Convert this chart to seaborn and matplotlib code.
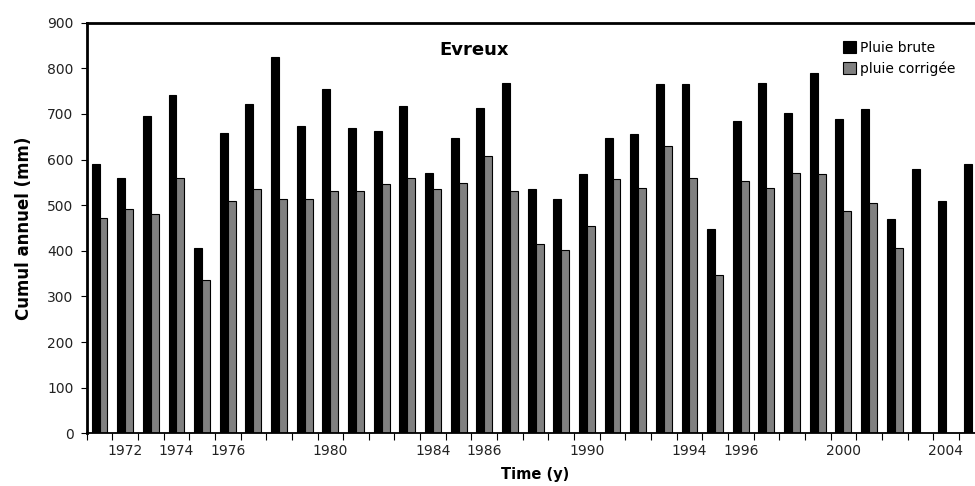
import numpy as np
import pandas as pd
import matplotlib
matplotlib.use("Agg")
import matplotlib.pyplot as plt
import seaborn as sns

years = list(range(1971, 2006))
pluie_brute = [590, 560, 695, 742, 407, 659, 721, 825, 673, 754,
               670, 662, 717, 571, 648, 714, 768, 535, 513, 568,
               648, 655, 765, 765, 447, 684, 768, 703, 790, 688,
               710, 469, 579, 509, 590]
pluie_corrigee = [472, 491, 480, 560, 337, 509, 535, 513, 513, 531,
                  531, 546, 560, 535, 549, 608, 531, 416, 402, 454,
                  557, 538, 630, 560, 348, 553, 538, 571, 568, 487,
                  505, 407, np.nan, np.nan, np.nan]
series_names = ["Pluie brute", "pluie corrigée"]
shown_years = [1972, 1974, 1976, 1980, 1984, 1986, 1990, 1994, 1996, 2000, 2004]
y_ticks = list(range(0, 1000, 100))

df = pd.DataFrame({
    "year": years * 2,
    "cumul": pluie_brute + pluie_corrigee,
    "serie": [series_names[0]] * len(years) + [series_names[1]] * len(years),
}).dropna()

sns.set_style("ticks", {"axes.edgecolor": "black", "xtick.color": "black",
                        "ytick.color": "black", "text.color": "black"})
plt.rcParams["font.family"] = ["DejaVu Sans"]

fig = plt.figure(figsize=(9.75, 4.86), dpi=100)
ax = fig.add_axes([0.0889, 0.1084, 0.9208, 0.8449])

sns.barplot(data=df, x="year", y="cumul", hue="serie", hue_order=series_names,
            order=years, palette=["black", "#808080"], saturation=1,
            width=0.62, edgecolor="black", linewidth=0.8, errorbar=None, ax=ax)

# ticks at category edges, labels in the middle (minor ticks)
ax.set_xticks(np.arange(-0.5, len(years), 1))
ax.set_xticklabels([])
ax.set_xticks([years.index(y) for y in shown_years], labels=[str(y) for y in shown_years], minor=True)
ax.set_xlim(-0.5, len(years) - 0.5)
ax.set_ylim(0, 900)
ax.set_yticks(y_ticks)

ax.tick_params(axis="x", which="major", length=5, width=0.8, direction="out", color="black")
ax.tick_params(axis="x", which="minor", length=0, pad=8, labelsize=10, labelcolor="#222222")
ax.tick_params(axis="y", length=4.5, width=0.8, pad=5, labelsize=10, labelcolor="#222222", color="black")

for side in ["left", "top"]:
    ax.spines[side].set_linewidth(2)
ax.spines["bottom"].set_linewidth(1.3)
for sp in ax.spines.values():
    sp.set_color("black")

ax.set_xlabel("Time (y)", fontsize=10.5, fontweight="bold", labelpad=6, color="black")
ax.set_ylabel("Cumul annuel (mm)", fontsize=12, fontweight="bold", labelpad=10, color="black")

ax.text(0.432, 0.934, "Evreux", transform=ax.transAxes, ha="center", va="center",
        fontsize=13, fontweight="bold", color="black")

sns.move_legend(ax, "upper left", bbox_to_anchor=(843 / 975, 1 - 41 / 486),
                bbox_transform=fig.transFigure, frameon=False, title=None,
                fontsize=10, handlelength=0.95, handleheight=0.9,
                handletextpad=0.3, labelspacing=0.45, borderpad=0, borderaxespad=0)

fig.savefig("out.png", dpi=100)
